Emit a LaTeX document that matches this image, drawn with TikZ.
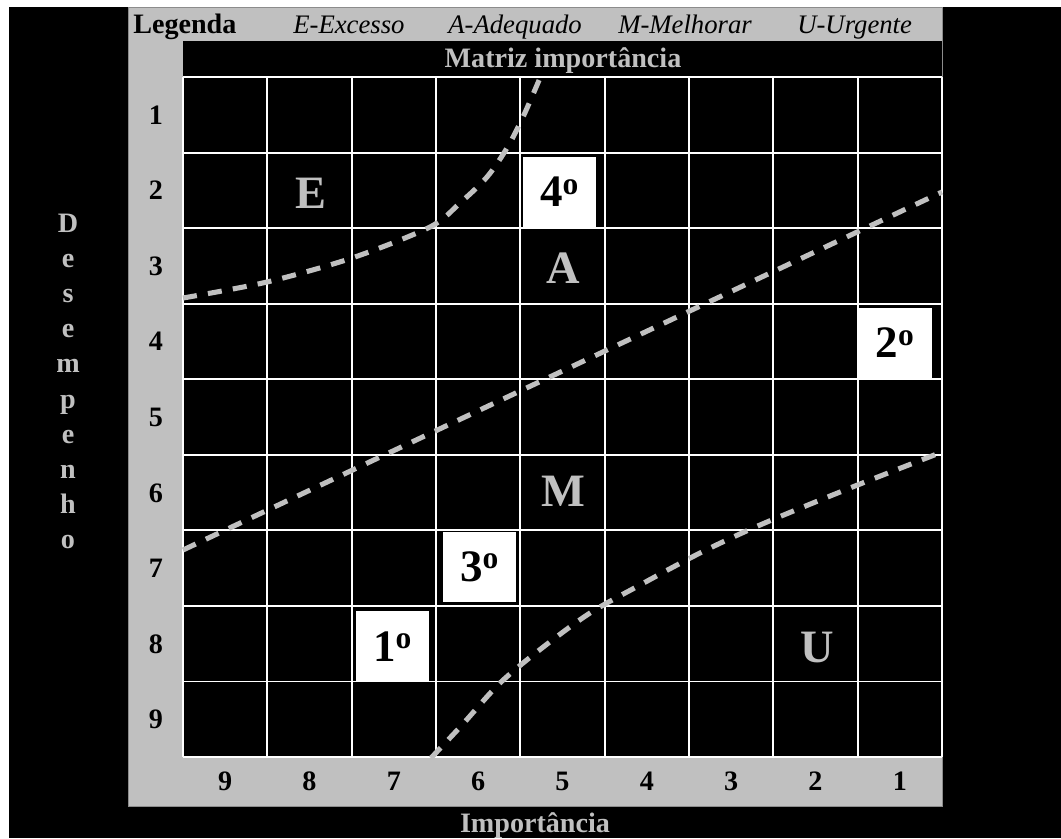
\documentclass[tikz,border=0pt]{standalone}
\usepackage{fontspec}
\setmainfont{Liberation Serif}
\definecolor{framegray}{RGB}{192,192,192}

\begin{document}
\begin{tikzpicture}[
  x=0.025cm, y=-0.025cm,
  gridline/.style={white,line width=1.4pt},
  boundary/.style={framegray,line width=3.6pt,dash pattern=on 10pt off 8pt},
  axisnum/.style={inner sep=0,anchor=base,font=\bfseries\fontsize{20}{23}\selectfont},
  axistitle/.style={inner sep=0,anchor=base,text=framegray,font=\bfseries\fontsize{20}{23}\selectfont},
  legitem/.style={inner sep=0,anchor=base west,font=\itshape\fontsize{19}{22}\selectfont},
  zonemark/.style={inner sep=0,anchor=base,text=framegray,font=\bfseries\fontsize{33}{36}\selectfont},
  rankbox/.style={fill=white,inner sep=0,minimum width=1.825cm,minimum height=1.76cm,font=\bfseries\fontsize{32}{35}\selectfont}
]
  \useasboundingbox (0,0) rectangle (1061,838);
  \fill[white] (0,0) rectangle (1061,838);
  \fill[black] (9,7) rectangle (1061,838);
  \filldraw[fill=framegray,draw=black!45,line width=0.5pt] (128,7) rectangle (942,806);
  \fill[black] (183,41) rectangle (942,757);

  \foreach \c in {0,...,9}
    \draw[gridline] ({183+84.33*\c},77) -- ({183+84.33*\c},757);
  \foreach \r in {0,...,9}
    \draw[gridline] (183,{77+75.56*\r}) -- (942,{77+75.56*\r});

  \node[inner sep=0,anchor=base west,font=\bfseries\fontsize{20}{23}\selectfont] (legend) at (133,33) {Legenda};
  \node[legitem] (legE) at (293,33) {E-Excesso};
  \node[legitem] (legA) at (448,33) {A-Adequado};
  \node[legitem] (legM) at (618,33) {M-Melhorar};
  \node[legitem] (legU) at (797,33) {U-Urgente};
  \node[axistitle] (header) at (563,67) {Matriz importância};
  \node[axistitle] (xtitle) at (535,832) {Importância};

  \foreach \r in {1,...,9}
    \node[axisnum] (row\r) at (156,{77+75.56*(\r-0.5)+9.5}) {\r};
  \foreach \c in {1,...,9} {
    \pgfmathtruncatemacro{\imp}{10-\c}
    \node[axisnum] (col\c) at ({183+84.33*(\c-0.5)},790) {\imp};
  }
  \foreach \l [count=\i] in {D,e,s,e,m,p,e,n,h,o}
    \node[axistitle] (desemp\i) at (68,{232+35.2*(\i-1)}) {\l};

  \draw[boundary] plot[smooth] coordinates {(183,298) (267,282) (352,258) (430,227) (460,203) (487,177) (507,148) (523,117) (540,78)};
  \draw[boundary] (183,550) -- (942,192);
  \draw[boundary] plot[smooth] coordinates {(431,758) (462,725) (500,683) (542,648) (590,613) (640,585) (700,553) (760,525) (850,488) (942,452)};

  \node[zonemark] (zoneE) at (311,208) {E};
  \node[zonemark] (zoneA) at (563,283) {A};
  \node[zonemark] (zoneM) at (563,506) {M};
  \node[zonemark] (zoneU) at (817,662) {U};

  \node[rankbox] (rank4) at (559.5,192) {4\textsuperscript{o}};
  \node[rankbox] (rank2) at (895,343) {2\textsuperscript{o}};
  \node[rankbox] (rank3) at (479.5,567) {3\textsuperscript{o}};
  \node[rankbox] (rank1) at (392.5,646.5) {1\textsuperscript{o}};
\end{tikzpicture}
\end{document}
